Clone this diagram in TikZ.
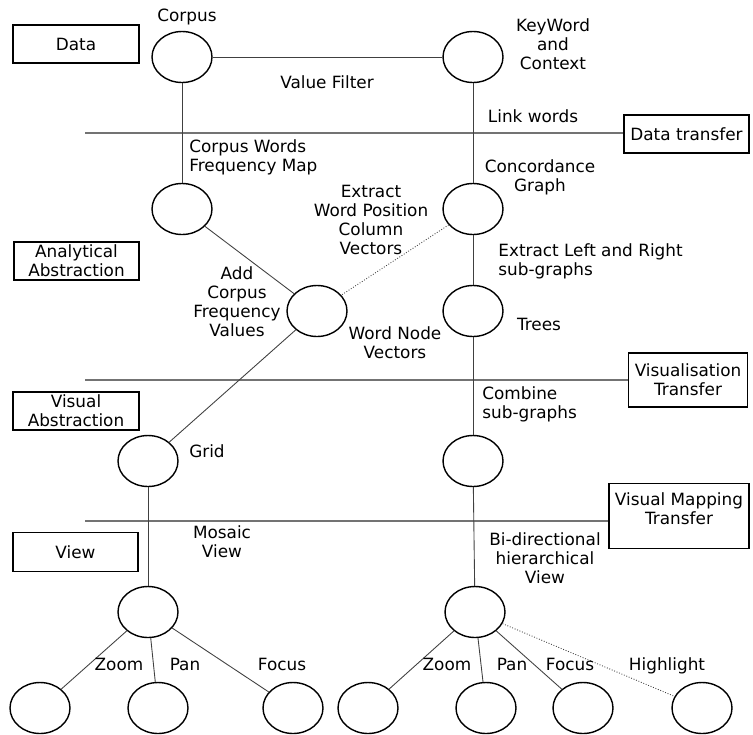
\documentclass[tikz,border=0pt]{standalone}
\usepackage{fontspec}
\setmainfont{DejaVu Sans}
\usetikzlibrary{shapes.geometric}

\begin{document}
\begin{tikzpicture}[x=0.02cm,y=-0.02cm,
    stage/.style={ellipse,minimum width=1.2cm,minimum height=1.02cm,inner sep=0pt,draw,line width=.8pt},
    layerbox/.style={rectangle,draw,line width=.7pt,align=center,inner sep=1pt},
    lbl/.style={align=center,inner sep=0pt},
    link/.style={draw=black!75,line width=.5pt},
    layerline/.style={draw=black!55,line width=.6pt},
    every node/.append style={font=\fontsize{9.6}{10.8}\selectfont}]
  \useasboundingbox (0,0) rectangle (753,734);
  % layer boxes
  \draw(76,44) node[layerbox,minimum width=2.52cm,minimum height=.76cm] (data) {Data};
  \draw(76.5,261) node[layerbox,minimum width=2.5cm,minimum height=.76cm] (analytic) {Analytical\\Abstraction};
  \draw(76,411) node[layerbox,minimum width=2.52cm,minimum height=.76cm] (visabs) {Visual\\Abstraction};
  \draw(75.5,552) node[layerbox,minimum width=2.5cm,minimum height=.78cm] (view) {View};
  \draw(686.5,134) node[layerbox,minimum width=2.5cm,minimum height=.76cm] (datatr) {Data transfer};
  \draw(688,380) node[layerbox,minimum width=2.38cm,minimum height=1.08cm] (vistr) {Visualisation\\Transfer};
  \draw(679,516) node[layerbox,minimum width=2.8cm,minimum height=1.3cm,text depth=.3cm] (maptr) {Visual Mapping\\Transfer};
  % layer lines
  \coordinate (d0) at (85,133);
  \coordinate (v0) at (85,380);
  \coordinate (m0) at (85,521);
  \draw[layerline] (d0) -- (d0 -| datatr.west);
  \draw[layerline] (v0) -- (v0 -| vistr.west);
  \draw[layerline] (m0) -- (m0 -| maptr.west);
  % stages
  \draw(182,57) node[stage] (corpus) {};
  \draw(473,57) node[stage] (kwic) {};
  \draw(182,209) node[stage] (freq) {};
  \draw(473,209) node[stage] (concord) {};
  \draw(317,311) node[stage] (wordvec) {};
  \draw(473,311) node[stage] (trees) {};
  \draw(148,461) node[stage] (grid) {};
  \draw(473,461) node[stage] (combined) {};
  \draw(148,612) node[stage] (mosaic) {};
  \draw(475,612) node[stage] (bidir) {};
  \draw(40,708) node[stage] (mzoom) {};
  \draw(158,708) node[stage] (mpan) {};
  \draw(293,708) node[stage] (mfocus) {};
  \draw(368,708) node[stage] (bzoom) {};
  \draw(486,708) node[stage] (bpan) {};
  \draw(583,708) node[stage] (bfocus) {};
  \draw(702,708) node[stage] (bhigh) {};
  % connectors
  \draw[link] (corpus) -- (kwic);
  \draw[link] (corpus) -- (freq);
  \draw[link] (kwic) -- (concord);
  \draw[link] (freq) -- (wordvec);
  \draw[link,densely dotted] (concord) -- (wordvec);
  \draw[link] (concord) -- (trees);
  \draw[link] (wordvec) -- (grid);
  \draw[link] (trees) -- (combined);
  \draw[link] (grid) -- (mosaic);
  \draw[link] (combined) -- (bidir);
  \draw[link] (mosaic) -- (mzoom);
  \draw[link] (mosaic) -- (mpan);
  \draw[link] (mosaic) -- (mfocus);
  \draw[link] (bidir) -- (bzoom);
  \draw[link] (bidir) -- (bpan);
  \draw[link] (bidir) -- (bfocus);
  \draw[link,densely dotted] (bidir) -- (bhigh);
  % labels
  \node[lbl] (lcorpus) at (187,17) {Corpus};
  \node[lbl] (lkwic) at (553,44) {KeyWord\\and\\Context};
  \node[lbl] (lfilter) at (327,82) {Value Filter};
  \node[lbl] (llink) at (533,116) {Link words};
  \node[lbl,anchor=west,align=left] (lfreq) at (189,157) {Corpus Words\\Frequency Map};
  \node[lbl] (lconcord) at (540,177) {Concordance\\Graph};
  \node[lbl] (lextract) at (371,220) {Extract\\Word Position\\Column\\Vectors};
  \node[lbl] (ladd) at (237,302) {Add\\Corpus\\Frequency\\Values};
  \node[lbl] (lwordvec) at (395,343) {Word Node\\Vectors};
  \node[lbl,anchor=west,align=left] (lsplit) at (498,261) {Extract Left and Right\\sub-graphs};
  \node[lbl] (ltrees) at (539,324) {Trees};
  \node[lbl,anchor=west,align=left] (lcombine) at (482,404) {Combine\\sub-graphs};
  \node[lbl] (lgrid) at (207,451) {Grid};
  \node[lbl] (lmosaic) at (222,542) {Mosaic\\View};
  \node[lbl] (lbidir) at (545,558) {Bi-directional\\hierarchical\\View};
  \node[lbl,anchor=base] (lmzoom) at (119,670) {Zoom};
  \node[lbl,anchor=base] (lmpan) at (185,670) {Pan};
  \node[lbl,anchor=base] (lmfocus) at (282,670) {Focus};
  \node[lbl,anchor=base] (lbzoom) at (447,670) {Zoom};
  \node[lbl,anchor=base] (lbpan) at (512,670) {Pan};
  \node[lbl,anchor=base] (lbfocus) at (570,670) {Focus};
  \node[lbl,anchor=base] (lbhigh) at (667,670) {Highlight};
\end{tikzpicture}
\end{document}
